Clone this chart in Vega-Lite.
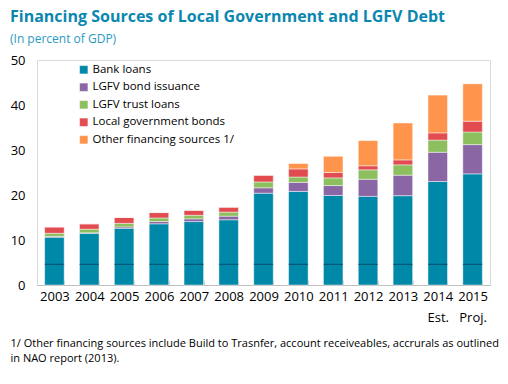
{
  "$schema": "https://vega.github.io/schema/vega-lite/v6.json",
  "autosize": "none",
  "width": 453,
  "height": 225,
  "padding": {"left": 37, "top": 60, "right": 18, "bottom": 99},
  "background": "white",
  "config": {
    "font": "Open Sans",
    "view": {"stroke": "#d9d9d9", "strokeWidth": 1}
  },
  "title": {
    "text": "Financing Sources of Local Government and LGFV Debt",
    "subtitle": "(In percent of GDP)",
    "anchor": "start",
    "frame": "group",
    "dx": -27,
    "offset": 9,
    "fontSize": 16,
    "fontWeight": "bold",
    "color": "#0a87b0",
    "subtitleColor": "#2a9bc2",
    "subtitleFontSize": 12,
    "subtitlePadding": 9
  },
  "data": {
    "values": [
      {"year": "2003", "series": "Bank loans", "k": 1, "v": 10.6},
      {"year": "2003", "series": "LGFV bond issuance", "k": 2, "v": 0.2},
      {"year": "2003", "series": "LGFV trust loans", "k": 3, "v": 0.7},
      {"year": "2003", "series": "Local government  bonds", "k": 4, "v": 1.4},
      {"year": "2003", "series": "Other financing sources 1/", "k": 5, "v": 0},
      {"year": "2004", "series": "Bank loans", "k": 1, "v": 11.5},
      {"year": "2004", "series": "LGFV bond issuance", "k": 2, "v": 0.1},
      {"year": "2004", "series": "LGFV trust loans", "k": 3, "v": 0.8},
      {"year": "2004", "series": "Local government  bonds", "k": 4, "v": 1.2},
      {"year": "2004", "series": "Other financing sources 1/", "k": 5, "v": 0},
      {"year": "2005", "series": "Bank loans", "k": 1, "v": 12.6},
      {"year": "2005", "series": "LGFV bond issuance", "k": 2, "v": 0.3},
      {"year": "2005", "series": "LGFV trust loans", "k": 3, "v": 0.8},
      {"year": "2005", "series": "Local government  bonds", "k": 4, "v": 1.3},
      {"year": "2005", "series": "Other financing sources 1/", "k": 5, "v": 0},
      {"year": "2006", "series": "Bank loans", "k": 1, "v": 13.6},
      {"year": "2006", "series": "LGFV bond issuance", "k": 2, "v": 0.5},
      {"year": "2006", "series": "LGFV trust loans", "k": 3, "v": 0.8},
      {"year": "2006", "series": "Local government  bonds", "k": 4, "v": 1.2},
      {"year": "2006", "series": "Other financing sources 1/", "k": 5, "v": 0},
      {"year": "2007", "series": "Bank loans", "k": 1, "v": 14.1},
      {"year": "2007", "series": "LGFV bond issuance", "k": 2, "v": 0.6},
      {"year": "2007", "series": "LGFV trust loans", "k": 3, "v": 0.8},
      {"year": "2007", "series": "Local government  bonds", "k": 4, "v": 1.1},
      {"year": "2007", "series": "Other financing sources 1/", "k": 5, "v": 0},
      {"year": "2008", "series": "Bank loans", "k": 1, "v": 14.5},
      {"year": "2008", "series": "LGFV bond issuance", "k": 2, "v": 0.8},
      {"year": "2008", "series": "LGFV trust loans", "k": 3, "v": 0.9},
      {"year": "2008", "series": "Local government  bonds", "k": 4, "v": 1.1},
      {"year": "2008", "series": "Other financing sources 1/", "k": 5, "v": 0},
      {"year": "2009", "series": "Bank loans", "k": 1, "v": 20.4},
      {"year": "2009", "series": "LGFV bond issuance", "k": 2, "v": 1.2},
      {"year": "2009", "series": "LGFV trust loans", "k": 3, "v": 1.3},
      {"year": "2009", "series": "Local government  bonds", "k": 4, "v": 1.5},
      {"year": "2009", "series": "Other financing sources 1/", "k": 5, "v": 0},
      {"year": "2010", "series": "Bank loans", "k": 1, "v": 20.8},
      {"year": "2010", "series": "LGFV bond issuance", "k": 2, "v": 2.0},
      {"year": "2010", "series": "LGFV trust loans", "k": 3, "v": 1.2},
      {"year": "2010", "series": "Local government  bonds", "k": 4, "v": 1.8},
      {"year": "2010", "series": "Other financing sources 1/", "k": 5, "v": 1.2},
      {"year": "2011", "series": "Bank loans", "k": 1, "v": 19.9},
      {"year": "2011", "series": "LGFV bond issuance", "k": 2, "v": 2.2},
      {"year": "2011", "series": "LGFV trust loans", "k": 3, "v": 1.7},
      {"year": "2011", "series": "Local government  bonds", "k": 4, "v": 1.2},
      {"year": "2011", "series": "Other financing sources 1/", "k": 5, "v": 3.6},
      {"year": "2012", "series": "Bank loans", "k": 1, "v": 19.7},
      {"year": "2012", "series": "LGFV bond issuance", "k": 2, "v": 3.8},
      {"year": "2012", "series": "LGFV trust loans", "k": 3, "v": 2.1},
      {"year": "2012", "series": "Local government  bonds", "k": 4, "v": 0.9},
      {"year": "2012", "series": "Other financing sources 1/", "k": 5, "v": 5.6},
      {"year": "2013", "series": "Bank loans", "k": 1, "v": 19.85},
      {"year": "2013", "series": "LGFV bond issuance", "k": 2, "v": 4.55},
      {"year": "2013", "series": "LGFV trust loans", "k": 3, "v": 2.3},
      {"year": "2013", "series": "Local government  bonds", "k": 4, "v": 1.1},
      {"year": "2013", "series": "Other financing sources 1/", "k": 5, "v": 8.2},
      {"year": "2014", "series": "Bank loans", "k": 1, "v": 23.0},
      {"year": "2014", "series": "LGFV bond issuance", "k": 2, "v": 6.5},
      {"year": "2014", "series": "LGFV trust loans", "k": 3, "v": 2.7},
      {"year": "2014", "series": "Local government  bonds", "k": 4, "v": 1.6},
      {"year": "2014", "series": "Other financing sources 1/", "k": 5, "v": 8.4},
      {"year": "2015", "series": "Bank loans", "k": 1, "v": 24.7},
      {"year": "2015", "series": "LGFV bond issuance", "k": 2, "v": 6.5},
      {"year": "2015", "series": "LGFV trust loans", "k": 3, "v": 2.8},
      {"year": "2015", "series": "Local government  bonds", "k": 4, "v": 2.4},
      {"year": "2015", "series": "Other financing sources 1/", "k": 5, "v": 8.3}
    ]
  },
  "encoding": {
    "x": {
      "field": "year",
      "type": "ordinal",
      "scale": {"paddingInner": 0.44, "paddingOuter": 0.22},
      "axis": {
        "labelAngle": 0,
        "labelFontSize": 13,
        "labelColor": "#000000",
        "labelPadding": 10,
        "labelLineHeight": 21,
        "labelExpr": "datum.value == '2014' ? ['2014', 'Est.'] : datum.value == '2015' ? ['2015', 'Proj.'] : datum.value",
        "tickBand": "extent",
        "tickSize": -5,
        "tickColor": "#d0d0d0",
        "domainColor": "#bfbfbf",
        "title": ["1/ Other financing sources include Build to Trasnfer, account receiveables, accrurals as outlined", "in NAO report (2013)."],
        "titleFontSize": 11,
        "titleFontWeight": "normal",
        "titleColor": "#000000",
        "titleAnchor": "start",
        "titleAlign": "left",
        "titleBaseline": "top",
        "titleLineHeight": 15.5,
        "titleX": -27,
        "titleY": 52
      }
    }
  },
  "layer": [
    {
      "mark": {"type": "bar", "stroke": "white", "strokeOpacity": 0.45, "strokeWidth": 1},
      "encoding": {
        "y": {
          "field": "v",
          "type": "quantitative",
          "stack": "zero",
          "scale": {"domain": [0, 50]},
          "axis": {
            "values": [0, 10, 20, 30, 40, 50],
            "grid": false,
            "ticks": false,
            "domain": false,
            "labelFontSize": 13,
            "labelColor": "#000000",
            "labelPadding": 12,
            "title": null
          }
        },
        "color": {
          "field": "series",
          "type": "nominal",
          "scale": {
            "domain": ["Bank loans", "LGFV bond issuance", "LGFV trust loans", "Local government  bonds", "Other financing sources 1/"],
            "range": ["#0088a8", "#8b66a5", "#8dbf5e", "#e24b50", "#ff944d"]
          },
          "legend": {
            "title": null,
            "orient": "none",
            "legendX": 41,
            "legendY": 4,
            "symbolType": "square",
            "symbolSize": 70,
            "symbolStrokeColor": "white",
            "symbolStrokeWidth": 0.5,
            "labelFontSize": 11.5,
            "labelColor": "#000000",
            "rowPadding": 4.5,
            "labelOffset": 3
          }
        },
        "order": {"field": "k", "type": "quantitative"}
      }
    },
    {
      "transform": [{"filter": "datum.k == 1"}],
      "mark": {"type": "tick", "color": "#0b3350", "thickness": 1, "size": 19.5},
      "encoding": {
        "y": {"datum": 4.6, "type": "quantitative"}
      }
    }
  ]
}
